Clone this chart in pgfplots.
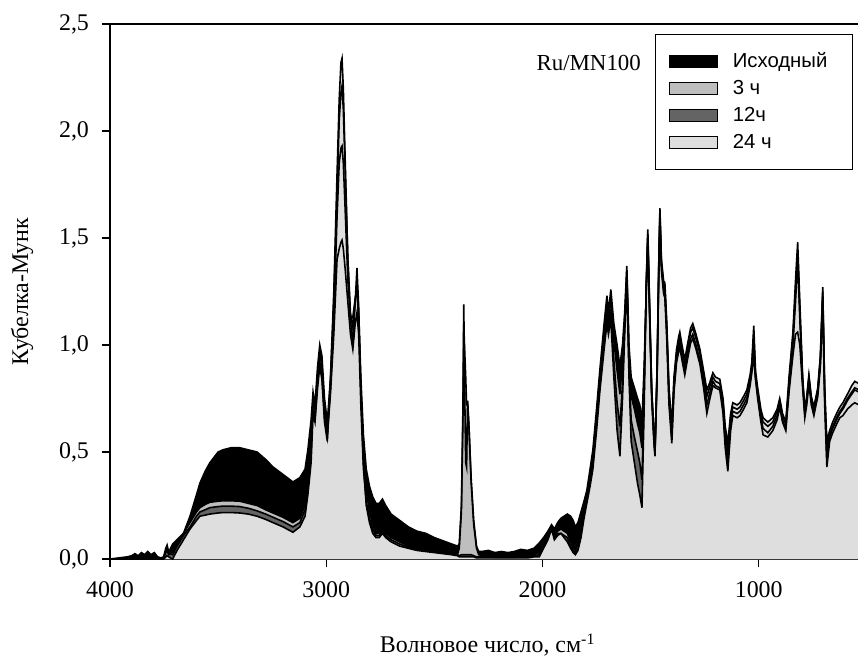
\documentclass[border=0pt]{standalone}
\usepackage{fontspec}
\setmainfont{Liberation Serif}
\newfontfamily\legendfont{Liberation Sans}
\usepackage{pgfplots}
\usepackage{pgfplotstable}
\pgfplotsset{compat=1.18}
\definecolor{cA}{gray}{0}
\definecolor{cB}{RGB}{190,190,190}
\definecolor{cC}{RGB}{100,100,100}
\definecolor{cD}{RGB}{222,222,222}

\pgfplotstableread{
x A B C D
4000 0 0 0 0
3960 .005 0 0 0
3920 .010 .004 .002 0
3900 .015 .005 .003 0
3885 .025 .008 .004 0
3870 .015 .006 .003 0
3855 .030 .010 .005 0
3840 .020 .008 .004 0
3825 .035 .012 .006 0
3810 .020 .008 .004 0
3795 .030 .010 .005 0
3780 .010 .004 .002 0
3765 .005 .002 .001 0
3752 .010 .005 .003 0
3742 .050 .040 .030 .010
3736 .065 .050 .040 .015
3728 .030 .025 .020 .010
3720 .050 .035 .025 .005
3710 .07 .03 .02 .00
3690 .09 .07 .06 .04
3660 .12 .12 .11 .09
3630 .20 .17 .15 .14
3600 .30 .22 .20 .18
3584 .355 .24 .22 .20
3560 .41 .255 .23 .205
3538 .45 .265 .24 .21
3500 .50 .27 .245 .215
3478 .51 .272 .247 .217
3440 .52 .272 .247 .217
3400 .52 .27 .245 .215
3360 .51 .26 .237 .21
3320 .50 .25 .225 .20
3280 .465 .23 .21 .185
3246 .43 .215 .195 .17
3200 .395 .195 .175 .15
3154 .36 .17 .15 .125
3122 .38 .19 .17 .15
3098 .42 .25 .23 .20
3085 .51 .38 .34 .30
3070 .65 .55 .50 .45
3061 .78 .74 .70 .68
3052 .72 .70 .66 .64
3040 .90 .86 .83 .80
3030 1.00 .96 .92 .90
3020 .95 .90 .86 .84
3008 .75 .70 .66 .64
2995 .64 .60 .57 .55
2980 .85 .80 .78 .86
2965 1.20 1.12 1.05 1.25
2950 1.70 1.60 1.40 1.80
2940 2.05 1.85 1.45 2.15
2932 2.18 1.92 1.48 2.32
2927 2.21 1.93 1.49 2.34
2921 2.10 1.85 1.45 2.20
2912 1.80 1.62 1.35 1.85
2900 1.40 1.30 1.20 1.40
2888 1.15 1.12 1.05 1.12
2877 1.08 1.13 0.98 1.00
2866 1.20 1.22 1.10 1.20
2858 1.30 1.25 1.15 1.36
2850 1.15 1.12 1.05 1.18
2840 .85 .80 .72 .80
2828 .58 .50 .42 .45
2815 .42 .32 .27 .25
2800 .34 .22 .19 .17
2785 .29 .16 .14 .12
2770 .26 .12 .11 .10
2755 .26 .12 .11 .10
2740 .28 .14 .13 .12
2725 .25 .12 .11 .10
2700 .21 .10 .09 .08
2660 .18 .08 .07 .06
2620 .15 .06 .055 .05
2580 .13 .05 .045 .04
2540 .12 .045 .04 .035
2500 .10 .04 .035 .03
2460 .085 .035 .03 .025
2420 .07 .03 .025 .02
2392 .06 .025 .02 .015
2385 .07 .05 .015 .01
2375 .25 .22 .02 .01
2368 .70 .65 .02 .01
2364 1.19 1.10 .02 .01
2360 .80 .98 .02 .01
2355 .45 .85 .02 .01
2351 .43 .72 .02 .01
2346 .74 .72 .02 .01
2340 .62 .62 .02 .01
2330 .38 .36 .02 .01
2318 .18 .16 .015 .01
2305 .06 .05 .01 .005
2295 .035 .02 .01 .005
2280 .035 .015 .01 .005
2250 .04 .015 .01 .005
2220 .03 .012 .008 .005
2190 .035 .012 .008 .005
2160 .03 .012 .008 .005
2130 .035 .012 .008 .005
2100 .045 .015 .01 .005
2070 .04 .015 .01 .005
2040 .05 .02 .015 .01
2015 .075 .03 .02 .01
1995 .10 .07 .06 .05
1975 .13 .11 .10 .09
1958 .16 .15 .14 .14
1945 .14 .11 .10 .09
1930 .17 .13 .12 .11
1915 .19 .14 .12 .12
1900 .20 .13 .11 .10
1885 .21 .12 .10 .08
1870 .20 .08 .06 .05
1858 .18 .05 .04 .03
1848 .15 .04 .03 .02
1836 .17 .07 .05 .04
1822 .22 .14 .12 .10
1808 .27 .23 .21 .19
1795 .32 .30 .28 .26
1780 .42 .39 .36 .34
1767 .51 .48 .45 .42
1750 .70 .67 .63 .60
1735 .88 .85 .81 .78
1715 1.10 1.06 1.02 .98
1702 1.23 1.19 1.14 1.10
1695 1.15 1.12 1.08 1.05
1684 1.26 1.22 1.17 1.12
1670 1.10 1.02 .93 .85
1655 1.00 .88 .73 .60
1642 .90 .77 .62 .48
1630 1.00 .92 .82 .75
1620 1.15 1.12 1.08 1.05
1610 1.37 1.35 1.32 1.30
1600 1.00 .96 .90 .85
1590 .85 .76 .65 .55
1575 .80 .70 .57 .45
1560 .75 .63 .50 .35
1550 .72 .59 .45 .30
1540 .64 .52 .37 .24
1530 .90 .84 .77 .70
1520 1.25 1.27 1.28 1.30
1513 1.48 1.50 1.52 1.54
1505 1.15 1.17 1.18 1.20
1495 .75 .77 .78 .80
1485 .55 .57 .58 .60
1480 .48 .49 .50 .51
1470 .85 .87 .88 .90
1462 1.35 1.37 1.38 1.40
1457 1.58 1.60 1.62 1.64
1450 1.35 1.37 1.38 1.40
1440 1.24 1.26 1.28 1.30
1434 1.22 1.25 1.27 1.29
1425 1.02 1.05 1.08 1.10
1415 .72 .75 .78 .80
1402 .54 .57 .60 .62
1392 .78 .80 .83 .85
1380 .92 .94 .96 .98
1370 .97 .99 1.02 1.04
1365 .99 1.01 1.04 1.06
1355 .93 .95 .98 1.00
1342 .86 .88 .91 .93
1330 .93 .95 .98 1.00
1315 1.01 1.03 1.06 1.08
1305 1.03 1.05 1.08 1.10
1290 .98 1.00 1.03 1.05
1272 .91 .93 .96 .98
1255 .80 .83 .86 .88
1240 .68 .72 .76 .79
1228 .74 .77 .80 .82
1212 .81 .83 .85 .87
1200 .80 .81 .83 .85
1180 .79 .80 .82 .84
1165 .68 .70 .73 .75
1155 .52 .55 .59 .62
1143 .41 .45 .50 .54
1130 .60 .63 .66 .68
1120 .67 .69 .71 .73
1100 .66 .68 .70 .72
1087 .67 .69 .71 .73
1070 .70 .72 .74 .76
1055 .73 .75 .77 .79
1040 .81 .83 .84 .86
1032 .87 .89 .90 .92
1023 .95 1.00 1.05 1.09
1015 .84 .85 .86 .88
1005 .75 .77 .78 .80
990 .64 .66 .68 .70
980 .58 .61 .64 .66
958 .57 .59 .62 .64
935 .60 .62 .64 .66
915 .65 .67 .69 .70
903 .71 .72 .74 .75
890 .64 .65 .67 .68
875 .60 .61 .63 .64
860 .78 .80 .82 .85
842 .95 1.00 1.03 1.06
830 1.05 1.20 1.25 1.30
820 1.06 1.40 1.44 1.48
810 1.00 1.12 1.16 1.20
797 .80 .82 .84 .85
787 .66 .68 .69 .70
778 .72 .74 .75 .76
768 .82 .84 .85 .86
757 .72 .74 .75 .76
745 .67 .69 .70 .71
735 .72 .74 .75 .76
727 .76 .78 .79 .80
715 .90 .92 .94 .95
704 1.20 1.23 1.25 1.27
695 .72 .75 .78 .80
685 .43 .47 .51 .55
672 .55 .57 .58 .60
658 .59 .61 .62 .64
640 .63 .65 .66 .68
625 .66 .68 .69 .71
611 .67 .70 .71 .73
590 .70 .74 .75 .77
570 .72 .77 .78 .81
556 .73 .79 .80 .83
537 .72 .78 .79 .82
}\spectra

\begin{document}
\begin{tikzpicture}
\path[use as bounding box] (-55bp,-51.5bp) rectangle (374bp,279.5bp);
\begin{axis}[
  at={(0,0)}, anchor=south west,
  scale only axis, width=374bp, height=267.5bp,
  x dir=reverse, xmin=541, xmax=4000, ymin=0, ymax=2.5,
  axis x line*=box, axis y line*=left,
  axis line style={black, line width=0.6pt},
  xtick={1000,2000,3000,4000}, ytick={0,0.5,1,1.5,2,2.5},
  xtick pos=bottom, ytick pos=left,
  tick align=outside, major tick length=4bp,
  tick style={black, line width=0.6pt},
  minor tick num=0,
  /pgf/number format/assume math mode=true,
  ticklabel style={font=\fontsize{12}{14}\selectfont},
  xticklabel style={/pgf/number format/1000 sep={}, yshift=-4bp},
  yticklabel style={/pgf/number format/.cd, fixed, fixed zerofill, precision=1, use comma, /tikz/xshift=-3bp},
  scaled ticks=false,
  xlabel={Волновое число, см\textsuperscript{-1}},
  ylabel={Кубелка-Мунк},
  label style={font=\fontsize{12}{14}\selectfont},
  xlabel style={at={(axis description cs:0.505,-0.1607)}, anchor=center},
  ylabel style={at={(axis description cs:-0.1176,0.5)}, anchor=center},
  legend image code/.code={\draw[#1, draw=black, line width=0.6pt] (0bp,-3bp) rectangle (24bp,3bp);},
  legend cell align=left,
  legend style={at={(axis description cs:0.7286,0.9813)}, anchor=north west,
    draw=black, line width=0.6pt, fill=white,
    font=\legendfont\fontsize{10.2}{12}\selectfont,
    inner xsep=6.5bp, inner ysep=6.75bp, row sep=0bp, column sep=7.5bp,
    nodes={inner sep=0pt, minimum height=13.5bp}},
]
\addplot[fill=cA, draw=none] table[x=x, y=A] {\spectra} \closedcycle;
\addlegendentry{Исходный\hspace*{6bp}}
\addplot[fill=cB, draw=none] table[x=x, y=B] {\spectra} \closedcycle;
\addlegendentry{3 ч}
\addplot[fill=cC, draw=none] table[x=x, y=C] {\spectra} \closedcycle;
\addlegendentry{12ч}
\addplot[fill=cD, draw=none] table[x=x, y=D] {\spectra} \closedcycle;
\addlegendentry{24 ч}
\addplot[black, line width=0.8pt, forget plot] table[x=x, y=A] {\spectra};
\addplot[black, line width=0.8pt, forget plot] table[x=x, y=B] {\spectra};
\addplot[black, line width=0.8pt, forget plot] table[x=x, y=C] {\spectra};
\addplot[black, line width=0.8pt, forget plot] table[x=x, y=D] {\spectra};
\node[anchor=east, font=\fontsize{11.5}{13}\selectfont] at (axis description cs:0.7192,0.9271) {Ru/MN100};
\end{axis}
\end{tikzpicture}
\end{document}
